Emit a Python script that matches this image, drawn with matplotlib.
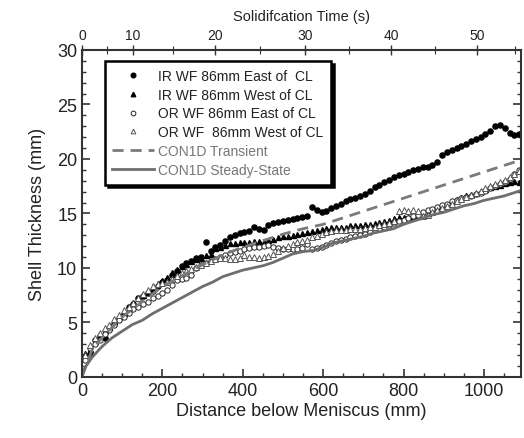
import numpy as np
import matplotlib
matplotlib.use("Agg")
import matplotlib.pyplot as plt
from matplotlib.ticker import MultipleLocator

plt.rcParams['font.family'] = ['Liberation Sans', 'DejaVu Sans']

# distance below meniscus where the thermocouple points sit (mm)
dist = np.arange(8, 1092, 12)

ir_east = [1.9, 2.1, 3.4, 3.8, 3.6, 4.4, 4.9, 5.3, 5.8, 6.4, 6.7, 7.2, 7.4, 7.7, 7.9, 8.3,
           8.7, 8.9, 9.4, 9.7, 10.2, 10.5, 10.6, 10.9, 11.0, 12.4, 11.6, 11.9, 12.1, 12.5,
           12.8, 13.0, 13.2, 13.3, 13.4, 13.8, 13.6, 13.5, 13.9, 14.1, 14.2, 14.3, 14.4,
           14.5, 14.6, 14.7, 14.8, 15.6, 15.3, 15.1, 15.2, 15.5, 15.7, 15.9, 16.1, 16.3,
           16.4, 16.6, 16.8, 17.1, 17.4, 17.6, 17.9, 18.1, 18.3, 18.5, 18.6, 18.8, 19.0,
           19.1, 19.3, 19.3, 19.4, 19.7, 20.4, 20.6, 20.8, 21.0, 21.2, 21.4, 21.6, 21.8,
           22.0, 22.3, 22.6, 23.0, 23.1, 22.8, 22.4, 22.2, 22.3]

ir_west = [2.2, 2.6, 3.3, 3.8, 4.3, 4.6, 5.1, 5.6, 5.9, 6.4, 6.9, 7.2, 7.5, 7.9, 8.3, 8.6,
           8.9, 9.2, 9.6, 9.9, 10.2, 10.4, 10.6, 10.8, 10.9, 11.2, 11.3, 11.8, 11.9, 12.1,
           12.3, 12.3, 12.4, 12.4, 12.4, 12.5, 12.5, 12.5, 12.6, 12.7, 12.8, 12.9, 12.9,
           13.0, 13.1, 13.2, 13.3, 13.4, 13.5, 13.6, 13.7, 13.8, 13.8, 13.8, 13.8, 13.9,
           13.9, 13.9, 14.0, 14.0, 14.1, 14.2, 14.3, 14.4, 14.6, 14.7, 14.7, 14.7, 14.7,
           14.8, 14.9, 15.0, 15.2, 15.5, 15.7, 15.9, 16.1, 16.3, 16.5, 16.7, 16.8, 16.9,
           17.1, 17.2, 17.4, 17.5, 17.6, 17.8, 17.9, 18.0, 17.9]

or_east = [1.6, 2.7, 3.0, 3.4, 3.9, 4.3, 4.8, 5.2, 5.5, 5.9, 6.2, 6.4, 6.7, 6.9, 7.2, 7.4,
           7.7, 8.0, 8.4, 8.9, 9.0, 9.1, 9.4, 10.0, 10.3, 10.5, 10.6, 10.8, 11.0, 11.2,
           11.4, 11.5, 11.6, 11.7, 11.8, 11.9, 11.9, 12.0, 12.1, 11.9, 11.8, 11.7, 11.7,
           11.7, 11.7, 11.8, 12.2, 11.7, 11.8, 11.9, 12.1, 12.3, 12.5, 12.6, 12.7, 12.8,
           12.9, 13.0, 13.1, 13.3, 13.5, 13.6, 13.8, 13.9, 14.1, 14.3, 14.4, 14.6, 14.8,
           14.9, 15.1, 15.3, 15.4, 15.6, 15.8, 15.9, 16.1, 16.2, 16.4, 16.5, 16.6, 16.8,
           16.9, 17.1, 17.3, 17.5, 17.7, 17.9, 18.2, 18.6, 19.0]

or_west = [2.0, 2.9, 3.6, 4.0, 4.5, 4.8, 5.3, 5.7, 6.1, 6.4, 6.8, 7.2, 7.6, 8.0, 8.3, 8.5,
           8.6, 8.7, 9.0, 9.3, 9.5, 9.7, 9.9, 10.1, 10.3, 10.5, 10.6, 10.8, 10.9, 10.9,
           10.8, 10.8, 10.9, 11.2, 11.0, 11.0, 10.9, 11.0, 11.1, 11.3, 11.6, 11.8, 12.0,
           12.2, 12.4, 12.5, 12.6, 12.8, 12.9, 13.1, 13.3, 13.4, 13.5, 13.5, 13.5, 13.6,
           13.6, 13.6, 13.7, 13.8, 13.8, 13.9, 14.0, 14.1, 14.3, 15.2, 15.3, 15.2, 15.3,
           15.2, 14.8, 14.9, 15.1, 15.3, 15.5, 15.7, 15.9, 16.1, 16.3, 16.5, 16.7, 16.9,
           17.1, 17.3, 17.5, 17.7, 17.9, 18.1, 18.3, 18.6, 18.9]

# CON1D model results
trans_x = [0, 25, 50, 100, 150, 200, 250, 300, 350, 400, 450, 500, 550, 600, 650, 700,
           750, 800, 850, 900, 950, 1000, 1050, 1092]
trans_y = [0.0, 2.5, 3.6, 5.5, 6.9, 8.3, 9.3, 10.3, 11.2, 11.9, 12.5, 13.1, 13.6, 14.0,
           14.6, 15.2, 15.8, 16.4, 17.0, 17.6, 18.2, 18.8, 19.4, 19.9]

ss_x = [0, 10, 25, 50, 75, 100, 125, 150, 175, 200, 225, 250, 275, 300, 325, 350, 375,
        400, 425, 450, 475, 500, 525, 550, 575, 600, 625, 650, 675, 700, 725, 750, 775,
        800, 825, 850, 875, 900, 925, 950, 975, 1000, 1025, 1050, 1075, 1092]
ss_y = [0.3, 1.0, 1.8, 2.8, 3.6, 4.2, 4.8, 5.2, 5.8, 6.3, 6.8, 7.3, 7.8, 8.3, 8.7, 9.2,
        9.5, 9.8, 10.0, 10.2, 10.5, 10.9, 11.3, 11.5, 11.6, 11.9, 12.3, 12.5, 12.7, 12.9,
        13.2, 13.4, 13.6, 14.0, 14.3, 14.6, 14.9, 15.1, 15.4, 15.7, 15.9, 16.2, 16.4,
        16.6, 16.9, 17.1]

# top axis: solidification time labels and where they fall in distance
time_labels = ['0', '10', '20', '30', '40', '50']
time_major_pos = [0, 127, 331, 555, 769, 983]
time_minor_pos = [62, 226, 443, 664, 878, 1077]

fig = plt.figure(figsize=(5.24, 4.39), dpi=100)
ax = fig.add_axes([0.1565, 0.139, 0.8375, 0.745])

ax.plot(dist, ir_east, 'o', ms=3.7, color='black', mec='black', label='IR WF 86mm East of  CL')
ax.plot(dist, ir_west, '^', ms=3.6, color='black', mec='black', label='IR WF 86mm West of CL')
ax.plot(dist, or_east, 'o', ms=3.8, mfc='white', mec='#222222', mew=0.7, label='OR WF 86mm East of CL')
ax.plot(dist, or_west, '^', ms=3.8, mfc='white', mec='#555555', mew=0.7, label='OR WF  86mm West of CL')
ax.plot(trans_x, trans_y, '--', color='#7a7a7a', lw=2.0, dashes=(4, 2.5), label='CON1D Transient')
ax.plot(ss_x, ss_y, '-', color='#6e6e6e', lw=2.0, label='CON1D Steady-State')

ax.set_xlim(0, 1092)
ax.set_ylim(0, 30)
ax.xaxis.set_major_locator(MultipleLocator(200))
ax.xaxis.set_minor_locator(MultipleLocator(50))
ax.yaxis.set_major_locator(MultipleLocator(5))
ax.yaxis.set_minor_locator(MultipleLocator(1))
ax.tick_params(which='both', direction='in', right=True, colors='#333333', labelcolor='#222222')
ax.tick_params(which='major', length=6, width=1.2, labelsize=13)
ax.tick_params(which='minor', length=3, width=1.0)
for s in ax.spines.values():
    s.set_linewidth(1.5)
    s.set_color('#333333')

ax.set_xlabel('Distance below Meniscus (mm)', fontsize=13, color='#222222', labelpad=2)
ax.set_ylabel('Shell Thickness (mm)', fontsize=13, color='#222222', labelpad=8)

top = ax.twiny()
top.set_xlim(ax.get_xlim())
top.set_xticks(time_major_pos)
top.set_xticklabels(time_labels)
top.set_xticks(time_minor_pos, minor=True)
top.tick_params(which='both', direction='inout', colors='#333333', labelcolor='#222222')
top.tick_params(which='major', length=7, width=1.0, labelsize=10, pad=2)
top.tick_params(which='minor', length=6, width=0.8)
top.set_xlabel('Solidifcation Time (s)', fontsize=10.5, color='#222222', labelpad=6)
for s in top.spines.values():
    s.set_visible(False)

leg = ax.legend(loc='upper left', bbox_to_anchor=(0.052, 0.966), borderaxespad=0,
                fontsize=10, frameon=True, fancybox=False, shadow={'color': 'black', 'alpha': 1},
                handlelength=3.0, handletextpad=0.3, labelspacing=0.35, borderpad=0.55,
                markerscale=0.9)
leg.get_frame().set_edgecolor('black')
leg.get_frame().set_linewidth(1.8)
for txt in leg.get_texts()[4:]:
    txt.set_color('#777777')
for txt in leg.get_texts()[:4]:
    txt.set_color('#222222')

fig.savefig('out.png', dpi=100)
